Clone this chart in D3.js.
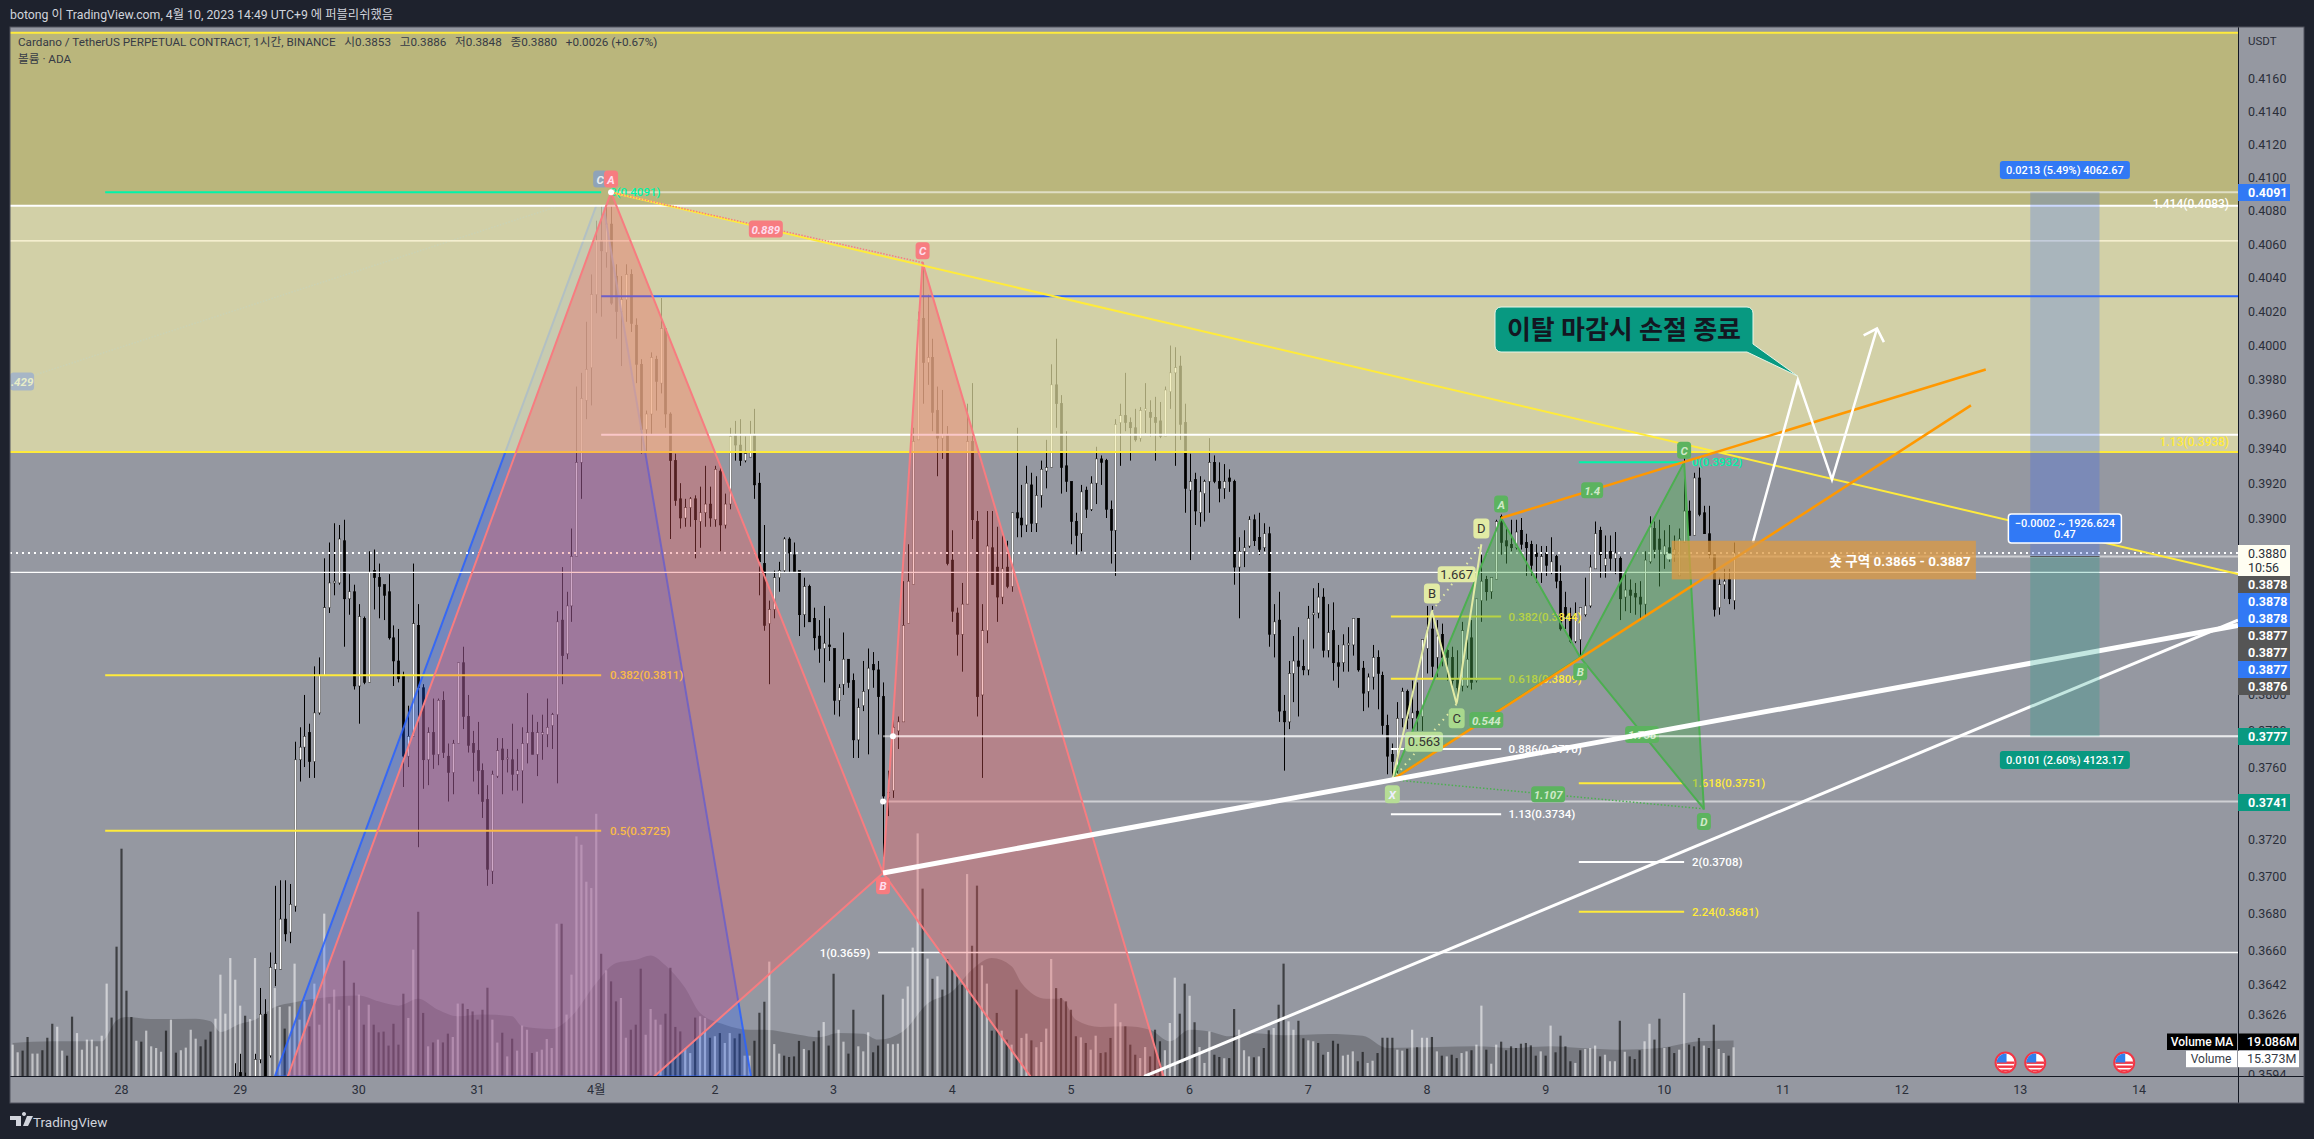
<!DOCTYPE html>
<html><head><meta charset="utf-8">
<script src="https://d3js.org/d3.v7.min.js"></script>
<style>html,body{margin:0;padding:0;background:#1e222d;overflow:hidden}svg{display:block}text{font-family:Roboto,"Noto Sans CJK KR",sans-serif}</style>
</head><body><svg id="c" width="2314" height="1139"></svg>
<script>
// ---- candles: hour index of the first row, then [open, high, low, close]
const firstCandleHour = 23;
const candles = [
[.3592,.3600,.3570,.3580],[.3595,.3605,.3570,.3585],[.3590,.3595,.3570,.3580],[.3585,.3590,.3570,.3588],[.3592,.3605,.3585,.3602],
[.3602,.3640,.3600,.3626],[.3626,.3634,.3580,.3590],[.3604,.3659,.3603,.3651],[.3650,.3695,.3641,.3653],[.3650,.3698,.3650,.3677],
[.3677,.3698,.3665,.3669],[.3670,.3696,.3664,.3685],[.3684,.3774,.3681,.3764],[.3764,.3782,.3752,.3771],[.3771,.3800,.3760,.3777],
[.3779,.3784,.3754,.3763],[.3763,.3816,.3754,.3790],[.3790,.3821,.3789,.3811],[.3811,.3877,.3811,.3849],[.3849,.3886,.3846,.3863],
[.3863,.3897,.3856,.3864],[.3863,.3896,.3862,.3888],[.3887,.3899,.3827,.3854],[.3854,.3868,.3845,.3858],[.3858,.3862,.3803,.3805],
[.3805,.3851,.3784,.3844],[.3843,.3844,.3806,.3807],[.3807,.3881,.3807,.3869],[.3870,.3882,.3848,.3866],[.3866,.3874,.3843,.3861],
[.3862,.3862,.3842,.3856],[.3858,.3868,.3831,.3832],[.3832,.3839,.3805,.3819],[.3819,.3837,.3807,.3809],[.3811,.3813,.3749,.3766],
[.3766,.3794,.3760,.3777],[.3777,.3874,.3777,.3840],[.3839,.3851,.3716,.3804],[.3804,.3806,.3748,.3764],[.3764,.3782,.3750,.3779],
[.3779,.3798,.3759,.3767],[.3767,.3798,.3761,.3797],[.3797,.3802,.3765,.3768],[.3766,.3773,.3741,.3757],[.3757,.3775,.3745,.3773],
[.3773,.3818,.3773,.3818],[.3818,.3827,.3781,.3788],[.3788,.3800,.3768,.3772],[.3773,.3780,.3752,.3768],[.3769,.3785,.3745,.3758],
[.3758,.3762,.3732,.3741],[.3742,.3750,.3695,.3704],[.3703,.3758,.3696,.3756],[.3755,.3776,.3754,.3769],[.3770,.3776,.3745,.3764],
[.3765,.3770,.3757,.3765],[.3764,.3784,.3747,.3756],[.3756,.3770,.3747,.3758],[.3758,.3782,.3740,.3773],[.3773,.3801,.3762,.3779],
[.3779,.3789,.3767,.3767],[.3767,.3785,.3755,.3779],[.3778,.3789,.3764,.3779],[.3778,.3798,.3771,.3782],[.3783,.3790,.3770,.3789],
[.3789,.3847,.3751,.3841],[.3842,.3872,.3806,.3822],[.3823,.3858,.3820,.3850],[.3850,.3894,.3841,.3878],[.3878,.3976,.3878,.3932],
[.3932,.3984,.3911,.3969],[.3968,.4014,.3957,.3986],[.3987,.4042,.3965,.4030],[.4030,.4074,.4019,.4062],[.4062,.4089,.4017,.4056],
[.4055,.4090,.4046,.4072],[.4072,.4091,.4024,.4025],[.4041,.4048,.4004,.4020],[.4020,.4041,.3988,.4027],[.4027,.4048,.4014,.4042],
[.4042,.4045,.4008,.4013],[.4012,.4016,.3978,.3989],[.3989,.3992,.3937,.3951],[.3951,.3962,.3938,.3960],[.3960,.3996,.3948,.3993],
[.3992,.3994,.3962,.3979],[.3978,.4028,.3972,.4010],[.4010,.4011,.3952,.3960],[.3960,.3961,.3888,.3933],[.3933,.3937,.3907,.3910],
[.3911,.3920,.3894,.3900],[.3900,.3911,.3895,.3906],[.3906,.3912,.3895,.3911],[.3911,.3913,.3877,.3899],[.3898,.3918,.3883,.3903],
[.3903,.3930,.3895,.3908],[.3908,.3918,.3895,.3900],[.3899,.3930,.3895,.3928],[.3927,.3929,.3881,.3896],[.3896,.3914,.3894,.3908],
[.3908,.3952,.3905,.3947],[.3948,.3956,.3933,.3942],[.3942,.3957,.3930,.3933],[.3933,.3947,.3932,.3937],[.3935,.3956,.3935,.3948],
[.3948,.3963,.3911,.3919],[.3920,.3926,.3856,.3875],[.3874,.3896,.3836,.3839],[.3840,.3853,.3806,.3848],[.3848,.3870,.3843,.3866],
[.3866,.3875,.3858,.3870],[.3870,.3889,.3869,.3888],[.3888,.3889,.3869,.3880],[.3879,.3886,.3869,.3869],[.3870,.3870,.3833,.3845],
[.3845,.3866,.3838,.3861],[.3861,.3862,.3841,.3841],[.3843,.3849,.3825,.3832],[.3833,.3842,.3818,.3826],[.3826,.3850,.3807,.3829],
[.3828,.3843,.3819,.3827],[.3826,.3826,.3789,.3797],[.3797,.3806,.3788,.3804],[.3806,.3835,.3800,.3820],[.3820,.3820,.3804,.3807],
[.3808,.3812,.3765,.3775],[.3775,.3798,.3765,.3793],[.3794,.3819,.3791,.3802],[.3803,.3826,.3767,.3815],[.3817,.3824,.3804,.3814],
[.3814,.3819,.3778,.3799],[.3799,.3807,.3705,.3744],[.3743,.3758,.3733,.3746],[.3747,.3787,.3743,.3782],[.3780,.3788,.3770,.3785],
[.3785,.3864,.3785,.3839],[.3840,.3885,.3840,.3864],[.3862,.3952,.3862,.3944],[.3945,.4020,.3945,.4015],[.4016,.4049,.3966,.3990],
[.3990,.4030,.3977,.3993],[.3993,.4004,.3950,.3961],[.3962,.3976,.3924,.3946],[.3946,.3974,.3934,.3948],[.3948,.3953,.3873,.3874],
[.3876,.3893,.3841,.3847],[.3846,.3849,.3822,.3834],[.3834,.3863,.3813,.3851],[.3851,.3966,.3851,.3944],[.3944,.3978,.3888,.3899],
[.3898,.3904,.3788,.3799],[.3800,.3851,.3754,.3836],[.3836,.3904,.3829,.3884],[.3883,.3904,.3862,.3862],[.3872,.3895,.3841,.3855],
[.3855,.3890,.3851,.3871],[.3872,.3887,.3860,.3861],[.3861,.3903,.3858,.3903],[.3903,.3952,.3889,.3900],[.3900,.3919,.3889,.3896],
[.3896,.3930,.3892,.3920],[.3919,.3926,.3892,.3897],[.3897,.3924,.3892,.3913],[.3913,.3933,.3906,.3928],[.3927,.3945,.3917,.3929],
[.3929,.3989,.3929,.3977],[.3977,.4004,.3952,.3966],[.3966,.3971,.3914,.3929],[.3930,.3950,.3915,.3921],[.3921,.3921,.3885,.3898],
[.3898,.3903,.3879,.3890],[.3891,.3919,.3881,.3915],[.3916,.3918,.3900,.3905],[.3905,.3924,.3904,.3920],[.3920,.3941,.3908,.3934],
[.3934,.3936,.3919,.3932],[.3933,.3934,.3900,.3905],[.3905,.3910,.3874,.3893],[.3893,.3957,.3867,.3954],[.3955,.3966,.3930,.3959],
[.3959,.3984,.3950,.3955],[.3955,.3958,.3933,.3952],[.3952,.3963,.3944,.3945],[.3946,.3964,.3944,.3962],[.3962,.3978,.3949,.3963],
[.3961,.3968,.3947,.3958],[.3958,.3970,.3933,.3955],[.3956,.3967,.3946,.3947],[.3947,.3976,.3947,.3974],[.3973,.4000,.3963,.3984],
[.3984,.3999,.3930,.3987],[.3988,.3994,.3945,.3954],[.3955,.3966,.3903,.3917],[.3916,.3937,.3876,.3921],[.3922,.3926,.3896,.3904],
[.3903,.3924,.3895,.3915],[.3914,.3922,.3898,.3921],[.3921,.3946,.3903,.3932],[.3932,.3936,.3920,.3921],[.3921,.3932,.3909,.3917],
[.3917,.3931,.3911,.3921],[.3923,.3928,.3915,.3921],[.3921,.3922,.3862,.3872],[.3872,.3889,.3843,.3881],[.3881,.3893,.3872,.3883],
[.3884,.3901,.3883,.3899],[.3899,.3902,.3884,.3887],[.3889,.3903,.3879,.3882],[.3883,.3897,.3881,.3891],[.3891,.3895,.3827,.3834],
[.3834,.3851,.3821,.3841],[.3842,.3858,.3785,.3791],[.3791,.3800,.3758,.3785],[.3785,.3819,.3781,.3812],[.3812,.3833,.3796,.3819],
[.3819,.3838,.3788,.3816],[.3816,.3831,.3811,.3814],[.3814,.3850,.3811,.3843],[.3845,.3860,.3826,.3846],[.3846,.3863,.3843,.3855],
[.3855,.3860,.3821,.3825],[.3825,.3851,.3821,.3835],[.3836,.3852,.3808,.3818],[.3818,.3828,.3804,.3816],[.3818,.3834,.3813,.3828],
[.3828,.3838,.3813,.3829],[.3828,.3843,.3822,.3843],[.3843,.3843,.3813,.3814],[.3815,.3819,.3791,.3801],[.3802,.3812,.3793,.3810],
[.3810,.3828,.3803,.3821],[.3821,.3825,.3792,.3812],[.3811,.3813,.3778,.3783],[.3783,.3789,.3756,.3766],[.3767,.3773,.3754,.3763],
[.3758,.3796,.3753,.3787],[.3787,.3804,.3782,.3802],[.3802,.3803,.3781,.3787],[.3787,.3808,.3780,.3790],[.3791,.3807,.3780,.3787],
[.3788,.3831,.3780,.3831],[.3826,.3850,.3812,.3837],[.3837,.3850,.3810,.3816],[.3821,.3842,.3810,.3833],[.3834,.3840,.3816,.3821],
[.3825,.3826,.3808,.3821],[.3821,.3827,.3804,.3808],[.3809,.3825,.3795,.3804],[.3805,.3841,.3802,.3836],[.3805,.3831,.3804,.3820],
[.3832,.3842,.3803,.3807],[.3808,.3854,.3807,.3854],[.3853,.3879,.3841,.3864],[.3865,.3867,.3853,.3858],[.3858,.3866,.3854,.3866],
[.3865,.3899,.3865,.3898],[.3901,.3902,.3879,.3886],[.3887,.3894,.3874,.3884],[.3885,.3899,.3881,.3883],[.3883,.3899,.3882,.3892],
[.3893,.3900,.3882,.3885],[.3886,.3891,.3867,.3883],[.3885,.3887,.3867,.3873],[.3880,.3885,.3863,.3878],[.3869,.3884,.3863,.3878],
[.3880,.3884,.3867,.3873],[.3869,.3889,.3868,.3875],[.3878,.3879,.3860,.3864],[.3864,.3873,.3836,.3837],[.3849,.3858,.3837,.3844],
[.3844,.3849,.3829,.3830],[.3830,.3852,.3829,.3844],[.3831,.3849,.3822,.3849],[.3845,.3866,.3844,.3850],[.3850,.3879,.3849,.3872],
[.3871,.3898,.3871,.3891],[.3893,.3895,.3866,.3879],[.3873,.3890,.3866,.3877],[.3881,.3890,.3870,.3877],[.3877,.3892,.3868,.3880],
[.3877,.3878,.3842,.3854],[.3855,.3868,.3847,.3859],[.3859,.3865,.3846,.3856],[.3857,.3863,.3845,.3855],[.3855,.3864,.3843,.3851],
[.3851,.3881,.3844,.3876],[.3875,.3901,.3874,.3895],[.3894,.3898,.3877,.3882],[.3888,.3899,.3861,.3882],[.3879,.3893,.3871,.3884],
[.3883,.3896,.3875,.3880],[.3879,.3890,.3875,.3882],[.3867,.3894,.3867,.3888],[.3886,.3935,.3886,.3904],[.3904,.3910,.3890,.3890],
[.3890,.3926,.3890,.3923],[.3923,.3929,.3901,.3902],[.3903,.3907,.3891,.3891],[.3891,.3907,.3877,.3879],[.3879,.3879,.3844,.3848],
[.3849,.3866,.3845,.3862],[.3862,.3871,.3854,.3864],[.3865,.3871,.3851,.3854],[.3853,.3886,.3848,.3880]
];
// ---- volume (millions) per hour, from firstVolumeHour
const firstVolumeHour = -22;
const volumes = [
16.8,12.7,13.6,20.9,12,12,13.8,20.5,28,26.4,
13.6,10.9,31.8,23,14.1,19.5,19.5,15.9,21.6,49.5,
31.3,69.3,121.8,45.7,31.6,18.9,18.4,24.3,15.9,15,
13,24.3,30.2,12.5,13.8,15.2,24.8,20,15.9,19.5,
23.8,30.7,54.3,33.4,63.2,51.6,37.7,32.3,30.5,63.2,
33.2,32.3,35.5,47.1,37,25.4,37.3,60.2,30.2,40,
26.6,49.5,27.5,87,38.8,46.3,35.5,61.8,37.7,50,
43.6,27.5,38.2,27.5,23.4,23.8,16.3,28,16.8,44.1,
31.1,67.7,88,33.8,15.9,18,19.5,18,22.7,20.9,
38.8,38.8,35.9,34.6,30.2,35.5,47.3,30.2,17.9,23.2,
10.5,20,13.6,27,24.8,12.3,13,14.1,19.8,15,
81.6,81.6,32.9,54.3,128.4,123.9,104.1,100.7,140.5,65.5,
56.6,50.7,40,41.8,20.5,24.8,27.5,57.5,22.1,35.9,
30.2,27.5,33.4,58,26.3,23.9,15,12.3,31.3,32,
31.1,20.5,21.3,23,17.7,23,20.2,22.7,10.9,10.9,
18.9,33.9,39.8,61.3,17.1,12,10.9,10.2,10.5,18.8,
14.5,13.8,18.6,24.3,28.9,16.3,54.8,24.8,18.4,12,
35.5,15.9,13.2,23.4,12.7,16.3,43.6,17.3,17,17.3,
41.4,48,68.8,130,100.4,62.9,52.1,53.4,46.3,62.7,
57,53.4,48.9,108.2,69.8,102,59.3,49.5,24.3,33.8,
24.3,19.5,16.8,46.3,20.4,22.7,19.1,15.4,18.2,25.4,
62.7,47.1,41.8,40,35.5,21.3,20.7,17.7,14.1,21.6,
12.3,12.7,20.4,38.8,28.8,26.6,16.8,11.4,9.6,15.5,
10.5,24.8,18.6,13.8,28.4,52.7,33.4,49.5,43,28.8,
15.5,7,23.9,11.4,10.2,9.5,9.6,35.9,24.8,13.8,
10.5,10,10.5,15,24.5,25.7,38.2,60.2,29.3,24.8,
29.6,20.2,19.1,18.6,17.7,11.4,12.9,18.9,17.3,10.9,
11.4,13.2,7.9,12.9,7,8.2,12.3,20.5,20.5,20.5,
14.1,13.6,14.6,24.8,15.4,20.5,20.5,20.9,13.2,10.9,
10.5,11.4,9.6,12.3,13.2,13.8,16.8,37.7,14.1,6.6,
16.8,18.4,13.8,15.9,15,17.3,17.7,16.4,10.9,13.2,
10.9,27,12.7,21.6,15.9,7.9,7,13.8,14.5,15,
16.3,10.5,11.4,7.9,7.9,29.6,13,10.5,9.1,13.8,
18.6,28,19.5,30.7,15,15.5,12.3,14.1,44.5,16.8,
15.9,20.4,16.3,15,27.5,14.5,12.3,10.9,15.373
];
const volumeDirs = "wwddwwdddw"+"wddwwwwwww"+"dddddwdwww"+"wdwdwwwwdd"+"dwwwwwwdww"+"wdwwwdwwww"+"dwwwwwwdwd"+"wdwddddddd"+"wwddwdwddw"+"wddddddwwd"+"wdwwwdwwww"+"wdwwwwwwwd"+"wddwwdddww"+"wwddddwwdw"+"wdwdwwddww"+"dddwwwdddd"+"wdddwddwwd"+"dwwwdddwww"+"wwwwdwdwdd"+"dddwddwwdd"+"wdwdwwdwww"+"wdddddwdww"+"dddwwdddww"+"dddwwwddwd"+"wwwddwddww"+"wdwddwddww"+"ddwwddwddw"+"wwddwwdddd"+"wwdwdwwdwd"+"wddwwdwwdw"+"wddddddddw"+"dwddddwdww"+"wdwwwdwddd"+"wwddwddwwd"+"ddwddwwdw";
// ---- Volume MA curve: hour, millions
const maHours = [-22,-14,-4,-1,1,6,15,18,20,24,27,31,35,39,44,48,52,56,60,64,68,73,79,81,87,91,96,100,104,107,110,114,117,122,127,130,137,141,145,150,153,158,163,168,172,176,180,182,187,190,193,198,203,208,212,216,220,224,228,235,244,251,256,266,274,281,289,295,303,311,319,326];
const maValues = [17.7,18.6,18.6,29.8,31.6,30.5,30.7,29.3,23.6,28,30.2,37,39.5,41.4,42.7,43.2,40,37.7,41.4,35.5,32,32.9,32,26.6,25.2,32,49.8,60.5,62.3,64.6,59.3,47.1,33.8,27.5,24.8,24.8,22.1,20.7,23,22.7,19.5,23.9,38.8,45.4,57,63.2,58.8,49.8,41.4,41.4,30.2,26.3,26.6,24.8,18.6,24.8,23.9,21.3,23,21.8,22.5,21.6,15,15.5,15.9,15,15.9,15,14.1,15,18.6,19.086];
// ---- axis text
const priceTicks = [0.4160,0.4140,0.4120,0.4100,0.4080,0.4060,0.4040,0.4020,0.4000,0.3980,0.3960,0.3940,0.3920,0.3900,0.3800,0.3780,0.3760,0.3720,0.3700,0.3680,0.3660,0.3642,0.3626,0.3594];
const dayLabels = ["28","29","30","31","4월","2","3","4","5","6","7","8","9","10","11","12","13","14"];
// ---- horizontal levels: price, start hour, colour, width
const hLevels = [
 [0.4091,99,"rgba(255,255,255,.55)",2],[0.4083,-23,"#fff",2],[0.4062,-23,"#fff8dc",1.2],[0.4029,97,"#2962ff",2],[0.3948,97,"#fff",2],
 [0.3938,-23,"#ffeb3b",2],[0.3869,-23,"#fff",1.2],[0.3878,313,"rgba(255,255,255,.55)",2],[0.3777,156,"rgba(255,255,255,.55)",2],
 [0.3741,154,"rgba(255,255,255,.55)",2],[0.3659,153,"#fff",1.5]];
const lastPrice = 0.3880;
// ---- fib segments: price, hour from, hour to, colour, label, label hour
const fibs = [
 [0.4091,-3.3,97,"#00f5a8","0(0.4091)",98.8],[0.3811,-3.3,97,"#ffeb3b","0.382(0.3811)",98.8],[0.3725,-3.3,97,"#ffeb3b","0.5(0.3725)",98.8],
 [0.3844,256.7,279,"#ffeb3b","0.382(0.3844)",280.5],[0.3809,256.7,279,"#ffeb3b","0.618(0.3809)",280.5],[0.3770,256.7,279,"#fff","0.886(0.3770)",280.5],[0.3734,256.7,279,"#fff","1.13(0.3734)",280.5],
 [0.3932,294.7,316,"#00f5a8","0(0.3932)",317.6],[0.3751,294.7,316,"#ffeb3b","1.618(0.3751)",317.6],[0.3708,294.7,316,"#fff","2(0.3708)",317.6],[0.3681,294.7,316,"#ffeb3b","2.24(0.3681)",317.6]];
// ---- drawn pattern points [hour, price]
const bluePattern = [[97,0.4091],[31,0.3593],[127.3,0.3593]];
const redXAB = [[-2.1,0.3347],[99,0.4091],[154,0.3702]];
const redBCD = [[154,0.3702],[162,0.4049],[229.3,0.3433]];
const greenXAB = [[257,0.3753],[279,0.3900],[295,0.3821]];
const greenBCD = [[295,0.3821],[316,0.3932],[320,0.3737]];
const paleABCD = [[257,0.3753],[265,0.3847],[270,0.3795],[275,0.3885]];
const trendYellow = [[99,0.4091],[428,0.3868]];
const trendWhiteThick = [[154,0.3702],[428,0.3839]];
const trendWhiteThin = [[206.8,0.3593],[428,0.3842]];
const orangeTop = [[279,0.3900],[377,0.3986]];
const orangeLow = [[257,0.3753],[374,0.3965]];
const forecast = [[329.9,0.3886],[339,0.3980],[345.9,0.3922],[355,0.4010]];
const forecastHead = [[352.3,0.4006],[355,0.4010],[356.4,0.4002]];
// ---- badges: text, hour, price, width, height, fill, text colour, italic
const badges = [
 ["C",96.8,.4099,14,17,"#8fa3b8","#e8ecef",1],["A",99,.4099,14,17,"#f77c80","#fde",1],["0.889",130.3,.4069,34,17,"#f77c80","#fde",1],
 ["C",162,.4056,14,17,"#f77c80","#fde",1],["B",154,.3695,14,17,"#f77c80","#fde",1],[".429",-20.1,.3979,24,18,"#a7b6c6","#e8edc8",1],
 ["A",279,.3908,14,17,"#5cb35f","#cfe8c8",1],["C",316,.3939,14,17,"#5cb35f","#cfe8c8",1],["B",295,.3813,14,17,"#5cb35f","#cfe8c8",1],["D",320,.3730,14,17,"#5cb35f","#cfe8c8",1],
 ["1.4",297.4,.3916,22,16,"#5cb35f","#cfe8c8",1],["0.544",276,.3786,34,16,"#5cb35f","#cfe8c8",1],["1.738",307.5,.3778,34,17,"#5cb35f","#cfe8c8",1],["1.107",288.5,.3745,34,16,"#5cb35f","#cfe8c8",1],
 ["D",275,.3894,16,20,"#e2eba5","#333",0],["B",265,.3857,16,20,"#e2eba5","#333",0],["C",270,.3787,16,20,"#a9d98d","#333",0],["X",257,.3745,15,18,"#b6dd95","#eef",1],
 ["1.667",270,.3868,38,16,"#e2eba5","#333",0],["0.563",263.4,.3774,38,20,"#b6dd95","#333",0]];
// ---- position tool
const posHours=[386,400]; const posTop=0.4091, posMid=0.3878, posBottom=0.3777;
const zoneHours=[313.5,375]; const zoneTop=0.3887, zoneBottom=0.3865;
const zoneLabel="숏 구역 0.3865 - 0.3887";
const calloutText="이탈 마감시 손절 종료";
const flagHours=[381,387,405];
const sideStack=[["0.3878","#555"],["0.3878","#3179f5"],["0.3878","#3179f5"],["0.3877","#555"],["0.3877","#555"],["0.3877","#3179f5"],["0.3876","#555"]];

const L=10,PR=2238,R=2304,T=27,AX=1076,B=1103;
const svg=d3.select("#c");
const x=d3.scaleLinear().domain([0,326]).range([121.5,121.5+4.945*326]);
const y=d3.scaleLog().domain([0.3594,0.4160]).range([1074.6,78.4]);
const v=d3.scaleLinear().domain([0,140.5]).range([AX,AX-262.2]);
const line=d3.line().x(d=>x(d[0])).y(d=>y(d[1]));
const defs=svg.append("defs");
defs.append("clipPath").attr("id","pane").append("rect").attr("x",L).attr("y",T).attr("width",PR-L).attr("height",AX-T);
defs.append("clipPath").attr("id","ticks").append("rect").attr("x",PR).attr("y",T).attr("width",R-PR).attr("height",AX-T);
svg.append("rect").attr("x",L).attr("y",T).attr("width",R-L).attr("height",B-T).attr("fill","#9598a1");
const pane=svg.append("g").attr("clip-path","url(#pane)");
const poly=(pts,fill,stroke,sw)=>pane.append("path").attr("d",line(pts)+"Z").attr("fill",fill).attr("stroke",stroke).attr("stroke-width",sw).attr("stroke-linejoin","round");
const pl=(pts,stroke,sw,dash)=>{const p=pane.append("path").attr("d",line(pts)).attr("fill","none").attr("stroke",stroke).attr("stroke-width",sw);if(dash)p.attr("stroke-dasharray",dash);return p;};

// volume MA + bars
pane.append("path").datum(maHours.map((h,i)=>[h,maValues[i]])).attr("fill","rgba(0,0,0,.2)")
 .attr("d",d3.area().x(d=>x(d[0])).y0(AX).y1(d=>v(d[1])).curve(d3.curveMonotoneX));
pane.selectAll(".vol").data(volumes).join("rect").attr("x",(d,i)=>x(i+firstVolumeHour)-1.1).attr("width",2.2)
 .attr("y",d=>v(d)).attr("height",d=>AX-v(d)).attr("fill",(d,i)=>volumeDirs[i]==="w"?"rgba(255,255,255,.55)":"rgba(0,0,0,.58)");
// candles
const cg=pane.append("g");
candles.forEach((c,i)=>{const [o,h,l,cl]=c,px=Math.round(x(i+firstCandleHour))+.5,up=cl>=o;
 cg.append("line").attr("x1",px).attr("x2",px).attr("y1",y(h)).attr("y2",y(l)).attr("stroke","#000").attr("stroke-width",1);
 const t=y(Math.max(o,cl)),b=y(Math.min(o,cl));
 cg.append("rect").attr("x",px-1.25).attr("width",2.5).attr("y",t).attr("height",Math.max(1,b-t)).attr("fill",up?"#fff":"#000").attr("stroke",up?"#2a2a2a":"#000").attr("stroke-width",.5);
});
// blue pattern lies under the zones
pl([[-20.5,0.398],bluePattern[0]],"#7f9fc8",1.5,"1.5 1.5");
poly(bluePattern,"rgba(41,98,255,.3)","rgba(41,98,255,.85)",2);
// zones
const zg=pane.append("g");
zg.append("rect").attr("x",L).attr("width",PR-L).attr("y",y(0.4188)).attr("height",y(0.4083)-y(0.4188)).attr("fill","#bab67c");
zg.append("rect").attr("x",L).attr("width",PR-L).attr("y",y(0.4083)).attr("height",y(0.3938)-y(0.4083)).attr("fill","rgba(240,236,170,.67)");
zg.append("line").attr("x1",L).attr("x2",PR).attr("y1",y(0.4188)).attr("y2",y(0.4188)).attr("stroke","#ffeb3b").attr("stroke-width",2);
// levels
hLevels.forEach(l=>zg.append("line").attr("x1",x(l[1])).attr("x2",PR).attr("y1",y(l[0])).attr("y2",y(l[0])).attr("stroke",l[2]).attr("stroke-width",l[3]));
zg.append("line").attr("x1",L).attr("x2",PR).attr("y1",y(lastPrice)).attr("y2",y(lastPrice)).attr("stroke","#fff").attr("stroke-width",2).attr("stroke-dasharray","2 4");
// fibs
fibs.forEach(f=>{zg.append("line").attr("x1",x(f[1])).attr("x2",x(f[2])).attr("y1",y(f[0])).attr("y2",y(f[0])).attr("stroke",f[3]).attr("stroke-width",2);
 zg.append("text").attr("x",x(f[5])).attr("y",y(f[0])+4).attr("font-size",11.5).attr("font-weight",500).attr("fill",f[3]).text(f[4]);});
zg.append("text").attr("x",x(151.4)).attr("y",y(0.3659)+4).attr("text-anchor","end").attr("font-size",11.5).attr("font-weight",500).attr("fill","#fff").text("1(0.3659)");
zg.append("text").attr("x",x(426.2)).attr("y",y(0.4090)+14).attr("text-anchor","end").attr("font-size",12).attr("font-weight",500).attr("fill","#fff").text("1.414(0.4083)");
zg.append("text").attr("x",x(426.2)).attr("y",y(0.3938)-6).attr("text-anchor","end").attr("font-size",12).attr("font-weight",500).attr("fill","#ffeb3b").text("1.13(0.3938)");
// patterns
poly(redXAB,"rgba(240,90,95,.34)","#f77c80",2);
poly(redBCD,"rgba(240,90,95,.34)","#f77c80",2);
pl(trendYellow,"#ffeb3b",2);
pl([redXAB[1],redBCD[1]],"#f77c80",1.5,"1.5 1.5");
pl(trendWhiteThin,"#fff",3);
pane.append("g").selectAll("circle").data([[99,.4091],[156,.3777],[154,.3741],[313,.3878]]).join("circle").attr("cx",d=>x(d[0])).attr("cy",d=>y(d[1])).attr("r",3).attr("fill","#fff");
poly(greenXAB,"rgba(76,175,80,.4)","#4caf50",2);
poly(greenBCD,"rgba(76,175,80,.4)","#4caf50",2);
pl([greenXAB[0],greenBCD[2]],"#4caf50",1.5,"1.5 2");
pl(paleABCD,"#e2eba5",2);
pl([paleABCD[1],paleABCD[3]],"#e2eba5",2,"1.5 5");
pl([paleABCD[0],paleABCD[2]],"#e2eba5",2,"1.5 5");
pl(orangeTop,"#ff9800",2.5);
pl(orangeLow,"#ff9800",2.5);
pl(forecast,"#fff",2.5);
pl(forecastHead,"#fff",2.5);
badges.forEach(b=>{const g=pane.append("g").attr("transform",`translate(${x(b[1])},${y(b[2])})`);
 g.append("rect").attr("x",-b[3]/2).attr("y",-b[4]/2).attr("width",b[3]).attr("height",b[4]).attr("rx",3.5).attr("fill",b[5]);
 g.append("text").attr("text-anchor","middle").attr("y",4.5).attr("font-size",b[7]?11.5:13).attr("font-style",b[7]?"italic":"normal").attr("font-weight",b[7]?700:400).attr("fill",b[6]).text(b[0]);});
// thick trend line and level run over the 1.7xx badge
pl(trendWhiteThick,"#fff",5);
pl([[154,.3777],[428,.3777]],"rgba(255,255,255,.55)",2);
// position tool + short zone
const xa=x(posHours[0]),xb=x(posHours[1]);
pane.append("rect").attr("x",xa).attr("width",xb-xa).attr("y",y(posTop)).attr("height",y(posMid)-y(posTop)).attr("fill","rgba(41,98,255,.24)");
pane.append("rect").attr("x",xa).attr("width",xb-xa).attr("y",y(posMid)).attr("height",y(posBottom)-y(posMid)).attr("fill","rgba(8,153,129,.24)");
pane.append("line").attr("x1",xa).attr("x2",xb).attr("y1",y(posMid)).attr("y2",y(posMid)).attr("stroke","#555").attr("stroke-width",1);
const zx=x(zoneHours[0]),zw=x(zoneHours[1])-zx;
pane.append("rect").attr("x",zx).attr("width",zw).attr("y",y(zoneTop)).attr("height",y(zoneBottom)-y(zoneTop)).attr("fill","rgba(222,153,66,.75)");
pane.append("text").attr("x",zx+zw-5).attr("y",y(0.3876)+6).attr("text-anchor","end").attr("font-size",13.5).attr("font-weight",700).attr("fill","#fff").text(zoneLabel);
const lab=(cx,cyTop,w,h,fill,lines,stroke)=>{const g=pane.append("g");
 g.append("rect").attr("x",cx-w/2).attr("y",cyTop).attr("width",w).attr("height",h).attr("rx",3).attr("fill",fill).attr("stroke",stroke||"none").attr("stroke-width",stroke?1.5:0);
 lines.forEach((t,i)=>g.append("text").attr("x",cx).attr("y",cyTop+h/2+4+(i-(lines.length-1)/2)*11.5).attr("text-anchor","middle").attr("font-size",11).attr("font-weight",500).attr("fill","#fff").text(t));};
const xc=(xa+xb)/2;
lab(xc,161,130,18,"#3179f5",["0.0213 (5.49%) 4062.67"]);
lab(xc,514,113,29,"#3179f5",["−0.0002 ~ 1926.624","0.47"],"#fff");
lab(xc,751,130,18,"#089981",["0.0101 (2.60%) 4123.17"]);
// callout
const cg2=pane.append("g");
const tipX=x(339),tipY=y(0.3982);
cg2.append("path").attr("d",`M1501,307H1747a6,6 0 0 1 6,6V344L${tipX},${tipY}L1747,352H1501a6,6 0 0 1 -6,-6V313a6,6 0 0 1 6,-6Z`).attr("fill","#089981").attr("stroke","#e8f5e9").attr("stroke-width",1);
cg2.append("text").attr("x",1507).attr("y",339).attr("font-family",'"Noto Sans CJK KR"').attr("font-size",26).attr("font-weight",700).attr("fill","#131722").attr("textLength",234).text(calloutText);

// axes
const ag=svg.append("g");
ag.append("line").attr("x1",PR+.5).attr("x2",PR+.5).attr("y1",T).attr("y2",B).attr("stroke","#131722");
ag.append("line").attr("x1",L).attr("x2",R).attr("y1",AX+.5).attr("y2",AX+.5).attr("stroke","#131722");
ag.append("rect").attr("x",L).attr("y",T).attr("width",R-L).attr("height",B-T).attr("fill","none").attr("stroke","#50535e").attr("stroke-width",1);
const axT=(xp,yp,t,o={})=>ag.append("text").attr("x",xp).attr("y",yp).attr("font-size",o.s||12.5).attr("fill",o.f||"#2a2e39").attr("font-weight",o.w||400).attr("text-anchor",o.a||"start").text(t);
axT(2248,45,"USDT",{s:11.5});
priceTicks.forEach(p=>axT(2248,y(p)+4.5,p.toFixed(4)).attr("clip-path","url(#ticks)"));
dayLabels.forEach((d,i)=>axT(x(i*24),1094,d,{a:"middle"}));
const box=(yt,h,fill,t,col)=>{ag.append("rect").attr("x",PR).attr("y",yt).attr("width",52).attr("height",h).attr("fill",fill);
 axT(PR+10,yt+h/2+4.5,t,{f:col||"#fff",w:700});};
box(184,17,"#3179f5","0.4091");
ag.append("rect").attr("x",PR).attr("y",545).attr("width",52).attr("height",31).attr("fill","#fffef2");
axT(PR+10,558,"0.3880",{f:"#2a2e39"});axT(PR+10,572,"10:56",{f:"#2a2e39"});
sideStack.forEach((s,i)=>box(576+i*17,17,s[1],s[0]));
box(728,17,"#089981","0.3777");box(794,17,"#089981","0.3741");
ag.append("rect").attr("x",2167).attr("y",1033.5).attr("width",70).attr("height",16.5).attr("fill","#000");
ag.append("rect").attr("x",PR).attr("y",1033.5).attr("width",61).attr("height",16.5).attr("fill","#000");
axT(2202,1046,"Volume MA",{a:"middle",f:"#fff",w:500,s:12});axT(PR+9,1046,"19.086M",{f:"#fff",w:500});
ag.append("rect").attr("x",2186).attr("y",1050.7).attr("width",51).attr("height",16.5).attr("fill","#fff");
ag.append("rect").attr("x",PR).attr("y",1050.7).attr("width",61).attr("height",16.5).attr("fill","#fff");
axT(2211,1063,"Volume",{a:"middle",f:"#363a45",s:12});axT(PR+9,1063,"15.373M",{f:"#363a45"});
// flags
flagHours.forEach(h=>{const g=ag.append("g").attr("transform",`translate(${x(h)},1062.5)`);
 defs.append("clipPath").attr("id","f"+h).append("circle").attr("r",9);
 g.append("circle").attr("r",10).attr("fill","#fff").attr("stroke","#f23645").attr("stroke-width",2);
 const c=g.append("g").attr("clip-path",`url(#f${h})`);
 [-1,3,7].forEach(t=>c.append("rect").attr("x",-10).attr("y",t).attr("width",20).attr("height",2.4).attr("fill","#f23645"));
 c.append("rect").attr("x",-10).attr("y",-10).attr("width",11).attr("height",10).attr("fill","#2f80ed");
});
// header + legend
const uiFont='"Noto Sans","Noto Sans CJK KR"';
svg.append("text").attr("x",10).attr("y",19).attr("font-size",12.3).attr("fill","#d1d4dc").attr("font-family",uiFont).text("botong 이 TradingView.com, 4월 10, 2023 14:49 UTC+9 에 퍼블리쉬했음");
svg.append("text").attr("x",18).attr("y",46).attr("font-size",11.7).attr("fill","#363a45").attr("font-family",uiFont).attr("xml:space","preserve").text("Cardano / TetherUS PERPETUAL CONTRACT, 1시간, BINANCE   시0.3853   고0.3886   저0.3848   종0.3880   +0.0026 (+0.67%)");
svg.append("text").attr("x",18).attr("y",63).attr("font-size",11.7).attr("fill","#363a45").attr("font-family",uiFont).text("볼륨 · ADA");
// logo
svg.append("path").attr("d","M10 1116h11v10h-5v-6h-6zM24 1116a2 2 0 1 1 0.01 0M27 1116h6l-5 10h-5z").attr("fill","#d1d4dc");
svg.append("text").attr("x",33).attr("y",1127).attr("font-size",13.5).attr("fill","#d1d4dc").attr("font-family",'"Noto Sans"').text("TradingView");
</script></body></html>
